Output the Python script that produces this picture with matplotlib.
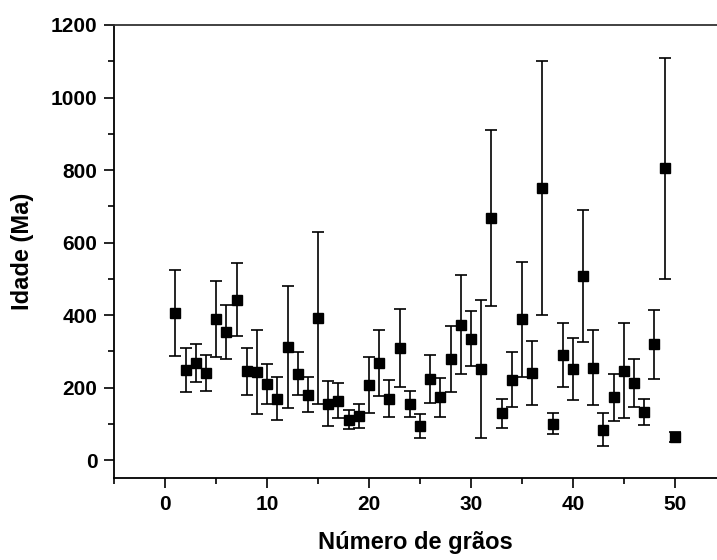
import matplotlib
matplotlib.use("Agg")
import matplotlib.pyplot as plt
from matplotlib import font_manager
from matplotlib.ticker import MultipleLocator

# fonte estreita se existir, senão a normal
nomes = {f.name for f in font_manager.fontManager.ttflist}
fonte = 'Liberation Sans Narrow' if 'Liberation Sans Narrow' in nomes else 'Liberation Sans'
estreita = fonte == 'Liberation Sans Narrow'
plt.rcParams['font.family'] = [fonte, 'DejaVu Sans']
plt.rcParams['font.weight'] = 'bold'

# idade de cada grão (Ma) e o erro associado
graos = list(range(1, 51))
idade = [406, 249, 268, 241, 389, 354, 443, 245, 243, 210,
         170, 312, 238, 180, 392, 156, 164, 112, 121, 208,
         268, 170, 310, 156, 93, 224, 173, 279, 374, 335,
         252, 668, 129, 222, 388, 241, 750, 101, 290, 252,
         508, 255, 84, 173, 247, 213, 133, 320, 805, 63]
erro = [118, 60, 52, 50, 104, 75, 102, 64, 117, 55,
        59, 167, 59, 48, 237, 61, 48, 27, 33, 77,
        92, 52, 107, 36, 33, 65, 54, 90, 137, 76,
        190, 243, 41, 75, 159, 88, 350, 30, 87, 85,
        182, 104, 45, 65, 132, 67, 37, 95, 305, 14]

fig = plt.figure(figsize=(7.17, 5.6), dpi=100)
ax = fig.add_axes([0.1594, 0.1459, 0.8406, 0.8095])

ax.errorbar(graos, idade, yerr=erro, fmt='s', color='black', ms=6.5,
            ecolor='black', elinewidth=1.2, capsize=4.5, capthick=1.2)

ax.set_xlim(-5, 54.14)
ax.set_ylim(-50, 1200)
ax.xaxis.set_major_locator(MultipleLocator(10))
ax.xaxis.set_minor_locator(MultipleLocator(5))
ax.yaxis.set_major_locator(MultipleLocator(200))
ax.yaxis.set_minor_locator(MultipleLocator(100))
tam = 17 if estreita else 15
ax.tick_params(which='major', direction='out', length=7, width=1.2, labelsize=tam, pad=5)
ax.tick_params(which='minor', direction='out', length=4.5, width=1.2)

ax.spines['right'].set_visible(False)
for s in ['left', 'bottom', 'top']:
    ax.spines[s].set_linewidth(1.3)
ax.spines['top'].set_color('#333333')

tam_rot = 19 if estreita else 17
ax.set_xlabel('Número de grãos', fontsize=tam_rot, fontweight='bold', labelpad=12)
ax.set_ylabel('Idade (Ma)', fontsize=tam_rot, fontweight='bold', labelpad=12)

fig.savefig('out.png', dpi=100)
